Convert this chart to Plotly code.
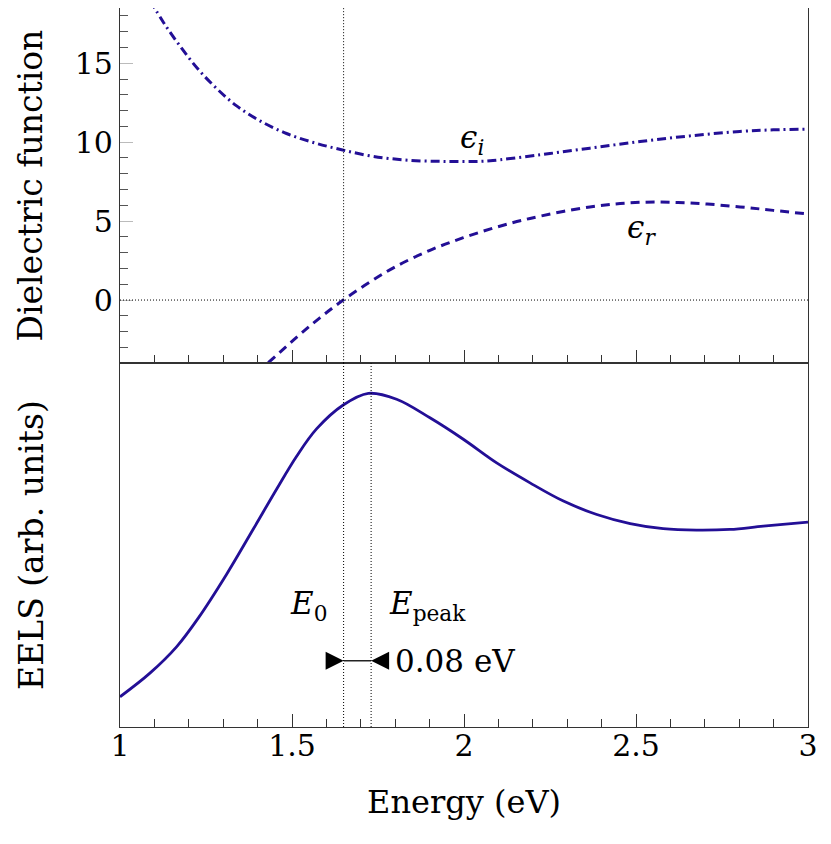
import plotly.graph_objects as go
from plotly.subplots import make_subplots

# Parte imaginária da função dielétrica
energia_ei = [1.087, 1.126, 1.174, 1.228, 1.281, 1.339, 1.407, 1.484, 1.562, 1.644,
              1.736, 1.843, 1.950, 2.042, 2.076, 2.221, 2.366, 2.512, 2.657, 2.802,
              2.899, 3.0]
eps_i = [19.0, 17.6, 16.1, 14.6, 13.4, 12.3, 11.35, 10.55, 9.98, 9.52,
         9.10, 8.85, 8.78, 8.78, 8.82, 9.20, 9.62, 10.04, 10.40, 10.68,
         10.78, 10.83]

# Parte real
energia_er = [1.431, 1.514, 1.581, 1.649, 1.727, 1.804, 1.901, 1.998, 2.095, 2.192,
              2.366, 2.512, 2.657, 2.802, 2.899, 3.0]
eps_r = [-3.97, -2.35, -1.13, 0.0, 1.15, 2.15, 3.15, 3.95, 4.62, 5.17,
         5.90, 6.19, 6.15, 5.90, 5.68, 5.45]

# Espectro EELS (unidades arbitrárias)
energia_eels = [1.0, 1.087, 1.165, 1.228, 1.310, 1.388, 1.456, 1.514, 1.572, 1.649,
                1.722, 1.804, 1.901, 1.998, 2.095, 2.192, 2.289, 2.386, 2.483, 2.579,
                2.676, 2.773, 2.870, 3.0]
eels = [0.083, 0.148, 0.221, 0.300, 0.420, 0.545, 0.655, 0.745, 0.820, 0.885,
        0.917, 0.901, 0.850, 0.791, 0.726, 0.671, 0.621, 0.584, 0.559, 0.545,
        0.541, 0.543, 0.552, 0.563]

E0 = 1.65
E_peak = 1.73
x_ticks = [1, 1.5, 2, 2.5, 3]
y_ticks = [0, 5, 10, 15]

cor = "#230f96"
fonte = "DejaVu Serif"

fig = make_subplots(rows=2, cols=1, shared_xaxes=True, vertical_spacing=0)

fig.add_trace(go.Scatter(x=energia_ei, y=eps_i, mode="lines", line_shape="spline",
                         line=dict(color=cor, width=3, dash="9px,4px,2px,4px")), row=1, col=1)
fig.add_trace(go.Scatter(x=energia_er, y=eps_r, mode="lines", line_shape="spline",
                         line=dict(color=cor, width=3, dash="9px,6px")), row=1, col=1)
fig.add_trace(go.Scatter(x=energia_eels, y=eels, mode="lines", line_shape="spline",
                         line=dict(color=cor, width=2.8)), row=2, col=1)

# linhas pontilhadas
pont = dict(color="black", width=1, dash="1px,2px")
fig.add_shape(type="line", xref="x", yref="y domain", x0=E0, x1=E0, y0=0, y1=1, line=pont)
fig.add_shape(type="line", xref="x domain", yref="y", x0=0, x1=1, y0=0, y1=0, line=pont)
fig.add_shape(type="line", xref="x2", yref="y2 domain", x0=E0, x1=E0, y0=0, y1=1, line=pont)
fig.add_shape(type="line", xref="x2", yref="y2 domain", x0=E_peak, x1=E_peak, y0=0, y1=1, line=pont)

# indicador de 0.08 eV
y_seta = 0.182
fig.add_shape(type="line", xref="x2", yref="y2", x0=E0, x1=E_peak, y0=y_seta, y1=y_seta,
              line=dict(color="black", width=1.3))
for xs, dx in [(E0, -17), (E_peak, 17)]:
    fig.add_annotation(x=xs, y=y_seta, xref="x2", yref="y2", ax=dx, ay=0, text="",
                       showarrow=True, arrowhead=2, arrowsize=3, arrowwidth=1.2,
                       arrowcolor="black", standoff=0)

tfont = dict(family=fonte, size=31, color="black")
fig.add_annotation(x=2.022, y=10.15, xref="x", yref="y", text="<i>ϵ<sub>i</sub></i>",
                   showarrow=False, font=tfont)
fig.add_annotation(x=2.517, y=4.46, xref="x", yref="y", text="<i>ϵ<sub>r</sub></i>",
                   showarrow=False, font=tfont)
fig.add_annotation(x=1.547, y=0.333, xref="x2", yref="y2", text="<i>E</i><sub>0</sub>",
                   showarrow=False, font=tfont)
fig.add_annotation(x=1.895, y=0.333, xref="x2", yref="y2", text="<i>E</i><sub>peak</sub>",
                   showarrow=False, font=tfont)
fig.add_annotation(x=1.795, y=y_seta, xref="x2", yref="y2", text="0.08 eV",
                   showarrow=False, xanchor="left", font=tfont)

eixo = dict(showline=True, linecolor="#333333", linewidth=1.2, mirror=True,
            showgrid=False, zeroline=False, ticks="inside")

fig.update_xaxes(**eixo, range=[1, 3], tickvals=x_ticks, ticklen=13, tickcolor="#333333",
                 minor=dict(dtick=0.1, tick0=1, ticklen=8, ticks="inside", tickcolor="#333333"))
fig.update_xaxes(showticklabels=False, row=1, col=1)
fig.update_xaxes(row=2, col=1, ticktext=["1", "1.5", "2", "2.5", "3"],
                 tickfont=dict(family=fonte, size=30, color="black"), ticklabelstandoff=-8,
                 title=dict(text="Energy (eV)", font=dict(family=fonte, size=32, color="black"),
                            standoff=28))

fig.update_yaxes(**eixo, row=1, col=1, range=[-4, 18.5], tickvals=y_ticks, ticklen=13,
                 tickcolor="#bbbbbb", domain=[0.506, 1],
                 minor=dict(dtick=1, tick0=0, ticklen=8, ticks="inside", tickcolor="#555555"),
                 tickfont=dict(family=fonte, size=30, color="black"),
                 title=dict(text="Dielectric function", font=dict(family=fonte, size=33, color="black"),
                            standoff=22))
fig.update_yaxes(showline=True, linecolor="#333333", linewidth=1.2, mirror=True,
                 showgrid=False, zeroline=False, row=2, col=1, range=[0, 1],
                 domain=[0, 0.506], showticklabels=False, ticks="",
                 title=dict(text="EELS (arb. units)", font=dict(family=fonte, size=33, color="black"),
                            standoff=65))

fig.update_layout(width=823, height=836, showlegend=False,
                  margin=dict(l=112, r=23, t=0, b=117),
                  plot_bgcolor="white", paper_bgcolor="white")

fig.write_html("out.html")
